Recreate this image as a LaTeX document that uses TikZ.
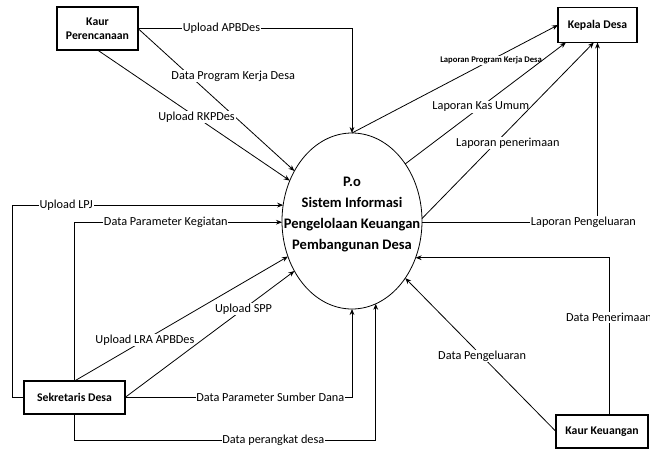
\documentclass[tikz,border=0pt]{standalone}
\usepackage{fontspec}
\setmainfont{Carlito}
\usetikzlibrary{arrows.meta,shapes.geometric}

\tikzset{
  entity/.style={draw, line width=0.8pt, font=\bfseries\fontsize{8.8}{10.5}\selectfont,
    align=center, inner sep=1pt, outer sep=0pt},
  process/.style={draw, ellipse, line width=0.6pt, inner sep=0pt, outer sep=0pt,
    minimum width=105pt, minimum height=132pt},
  proctext/.style={align=center, inner sep=0pt, font=\bfseries\fontsize{10.9}{15.75}\selectfont},
  flow/.style={line width=0.6pt, -{Stealth[length=4.5pt,width=3.6pt]}},
  lbl/.style={fill=white, inner sep=0.6pt, font=\fontsize{9.2}{11}\selectfont},
  smalllbl/.style={fill=white, inner sep=0.5pt, font=\bfseries\fontsize{6.5}{8}\selectfont}
}

\begin{document}
\begin{tikzpicture}[x=0.75pt,y=-0.75pt]
\useasboundingbox (0,0) rectangle (650,454);

% external entities and the process
\node[entity, minimum width=60.75pt, minimum height=32.25pt] (kp) at (97.5,28.5) {Kaur\\Perencanaan};
\node[entity, minimum width=59.25pt, minimum height=26.25pt] (kd) at (597.5,25) {Kepala Desa};
\node[entity, minimum width=75.75pt, minimum height=24.75pt] (sd) at (74.5,397.5) {Sekretaris Desa};
\node[entity, minimum width=69pt, minimum height=24.75pt] (kk) at (602,431.5) {Kaur Keuangan};
\node[process] (p) at (352,221) {};
\node[proctext] (ptext) at (352,215) {P.o\\Sistem Informasi\\Pengelolaan Keuangan\\Pembangunan Desa};

% Kaur Perencanaan -> process
\draw[flow] (kp.east) -| node[lbl, pos=0.195] {Upload APBDes} (p.north);
\draw[flow] (kp.east) -- node[lbl, pos=0.336, xshift=32pt] {Data Program Kerja Desa} (p.139);
\draw[flow] (kp.south) -- node[lbl, pos=0.515] {Upload RKPDes} (p.147);

% process -> Kepala Desa
\draw[flow] (p.north) -- node[smalllbl, pos=0.675] {Laporan Program Kerja Desa} (kd.west);
\draw[flow] (p.47.5) -- node[lbl, pos=0.47] {Laporan Kas Umum} (kd.209);
\draw[flow] (p.2) -- node[lbl, pos=0.43, xshift=9pt] {Laporan penerimaan} (kd.258);
\draw[flow] (p.-1) -| node[lbl, pos=0.46] {Laporan Pengeluaran} (kd.south);

% Sekretaris Desa -> process
\draw[flow] (sd.west) -- ++(-12,0) |- node[lbl, pos=0.6] {Upload LPJ} (p.167);
\draw[flow] (sd.north) |- node[lbl, pos=0.72] {Data Parameter Kegiatan} (p.181.5);
\draw[flow] (sd.north) -- node[lbl, pos=0.33] {Upload LRA APBDes} (p.209);
\draw[flow] (sd.east) -- node[lbl, pos=0.7] {Upload SPP} (p.221);
\draw[flow] (sd.east) -| node[lbl, pos=0.32] {Data Parameter Sumber Dana} (p.south);
\draw[flow] (sd.south) -- ++(0,26) -| node[lbl, pos=0.33] {Data perangkat desa} (p.286.5);

% Kaur Keuangan -> process
\draw[flow] (kk.north) ++(7,0) |- node[lbl, pos=0.31] {Data Penerimaan} (p.330);
\draw[flow] (kk.west) -- node[lbl, pos=0.49] {Data Pengeluaran} (p.313);
\end{tikzpicture}
\end{document}
